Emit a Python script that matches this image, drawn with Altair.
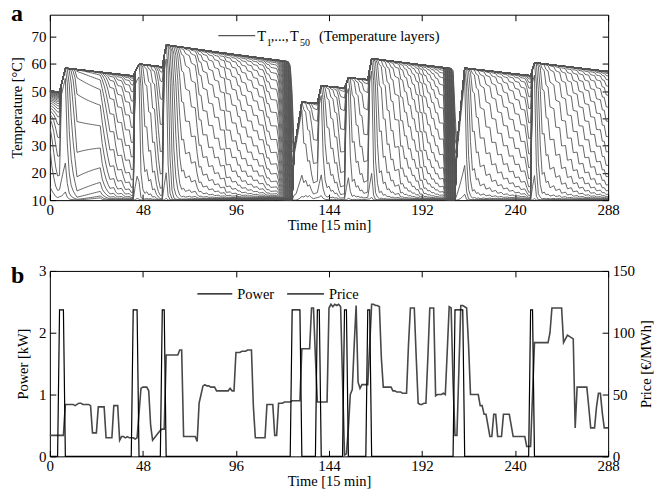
import altair as alt
import numpy as np
import pandas as pd

alt.data_transformers.disable_max_rows()

FONT = "Liberation Serif"
N_STEPS = 289          # 15-min steps, t = 0 ... 288
N_LAYERS = 50
T_COLD = 10.0          # mains water entering at the bottom, °C
T_ROOM = 20.0          # ambient temperature around the tank, °C
HEATER_LAYER = 2       # heater sits above the two bottom layers
LOSS = 0.0022          # standing loss per step
COND = 0.10            # conduction between neighbouring layers per step

# heater electrical power [kW] as (value, number of steps)
power_runs = [(0, 5), (2.37, 3), (0, 35), (2.37, 3), (0, 12), (2.37, 2), (0, 65),
              (2.37, 5), (0, 8), (2.37, 2), (0, 12), (2.37, 2), (0, 10), (2.37, 2),
              (0, 43), (2.37, 5), (0, 34), (2.37, 2), (0, 39)]

# electricity price [EUR/MWh] as (value, number of steps)
price_runs = [(17, 8), (42, 5), (41, 1), (42, 1), (43, 2), (42, 4), (41, 1), (19, 3),
              (40, 4), (15, 4), (41, 3), (13, 1), (16, 2), (15, 1), (16, 1), (15, 3),
              (14, 1), (15, 1), (35, 1), (55, 1), (56, 3), (53, 1), (25, 1), (13, 1),
              (15, 1), (17, 1), (19, 1), (21, 1), (22, 2), (82, 7), (86, 2), (16, 7),
              (12, 1), (43, 1), (50, 1), (57, 1), (58, 1), (57, 2), (56, 3), (53, 7),
              (55, 1), (53, 2), (84, 3), (85, 3), (86, 2), (86, 1), (40, 1), (15, 6),
              (42, 4), (17, 2), (43, 3), (44, 4), (45, 5), (87, 5), (120, 2), (80, 1),
              (44, 6), (120, 1), (123, 1), (121, 1), (123, 1), (122, 1), (123, 1),
              (121, 1), (60, 1), (1, 1), (2, 1), (23, 1), (50, 1), (54, 1), (90, 1),
              (122, 1), (60, 1), (55, 1), (58, 4), (90, 1), (123, 2), (122, 2), (121, 1),
              (80, 1), (56, 5), (53, 2), (52, 3), (51, 3), (90, 1), (120, 3), (80, 1),
              (43, 1), (42, 2), (43, 2), (80, 1), (120, 3), (49, 1), (50, 3), (51, 1),
              (50, 1), (85, 1), (121, 1), (120, 1), (60, 1), (17, 2), (70, 1), (122, 2),
              (121, 1), (120, 1), (90, 1), (50, 1), (50, 4), (41, 2), (34, 2), (25, 1),
              (16, 2), (34, 2), (16, 3), (34, 4), (25, 1), (16, 7), (8, 3), (50, 1),
              (92, 8), (100, 1), (120, 6), (92, 1), (95, 1), (98, 1), (97, 1), (96, 1),
              (95, 1), (23, 1), (56, 6), (40, 1), (23, 3), (40, 1), (51, 2), (35, 1),
              (23, 3)]

# top temperature reached at the end of each heating period [°C]
charge_peak = [58.5, 60.0, 67.0, 46.0, 52.0, 55.0, 62.0, 58.5, 60.5]

# hot-water draw-offs: step -> drawn volume in tank layers
draw_volume = {
    1: 0.5, 2: 0.5, 3: 0.6, 4: 0.5,
    9: 0.8, 10: 0.8, 11: 0.7, 12: 0.6, 13: 0.6, 14: 0.8,
    27: 0.8, 28: 0.6, 29: 0.6, 30: 0.6, 31: 0.6, 34: 0.8, 35: 0.6, 38: 0.7, 39: 0.7, 42: 0.8,
    46: 0.8, 47: 1.0, 48: 0.8, 49: 0.6, 51: 0.6, 53: 0.8, 55: 0.8, 56: 0.8, 57: 0.8,
    61: 1.0, 62: 1.0, 63: 1.0, 64: 1.0, 65: 0.8, 66: 0.8, 67: 0.8, 68: 0.6, 70: 0.5, 73: 0.5,
    76: 0.7, 77: 0.7, 79: 0.6, 82: 0.6, 85: 0.6, 88: 0.6, 91: 1.0, 94: 0.6, 97: 0.6, 99: 0.6,
    102: 0.6, 105: 0.6, 108: 0.6, 111: 0.7, 112: 0.7, 114: 0.6,
    118: 1.0, 119: 2.0, 120: 2.0, 121: 3.0, 122: 4.0, 123: 4.0, 124: 5.0, 125: 5.0,
    126: 6.0, 127: 6.0,
    131: 0.5, 133: 0.5, 135: 0.6, 136: 0.6,
    141: 0.8, 142: 0.8, 143: 0.6, 145: 0.6, 147: 0.6, 149: 0.8, 150: 0.8,
    155: 0.8, 156: 0.8, 158: 0.6, 160: 0.6, 162: 0.6,
    167: 1.0, 168: 1.0, 169: 0.8, 170: 0.8, 172: 0.7, 174: 0.7, 176: 0.6, 178: 0.6, 181: 1.0,
    183: 0.6, 185: 0.6, 187: 0.6, 189: 0.6, 191: 1.0, 193: 1.0, 195: 0.6, 197: 0.6, 199: 0.6,
    201: 0.6, 204: 3.0, 205: 5.0, 206: 6.0, 207: 6.0, 208: 6.0, 209: 6.0, 210: 4.0,
    215: 1.0, 216: 1.0, 217: 0.8, 218: 0.8, 220: 0.6, 222: 0.6, 225: 0.6, 228: 0.6, 231: 0.6,
    234: 0.6, 237: 0.6, 240: 0.6, 243: 0.6, 246: 0.8, 247: 1.0,
    251: 1.0, 252: 1.0, 253: 0.8, 254: 0.8, 256: 0.6, 258: 0.6, 261: 0.6, 264: 0.7, 267: 0.7,
    270: 0.7, 273: 0.7, 276: 0.7, 279: 0.7, 282: 0.7, 285: 0.7, 287: 0.7,
}

# layer temperatures at t = 0, bottom (T1) to top (T50) [°C]
layer_start = [15.0, 30.0, 37.0, 40.0, 41.5, 43.0, 44.0, 45.0, 46.0, 46.5,
               47.0, 47.5, 48.0, 48.3, 48.6, 48.9, 49.2, 49.4, 49.6, 49.8] + [50.0] * 30


def expand(runs):
    out = []
    for value, count in runs:
        out.extend([value] * count)
    assert len(out) == N_STEPS, len(out)
    return np.array(out, dtype=float)


power = expand(power_runs)
price = expand(price_runs)

# heating periods (first and last step with the heater on)
periods = []
i = 0
while i < N_STEPS:
    if power[i] > 0:
        j = i
        while j + 1 < N_STEPS and power[j + 1] > 0:
            j += 1
        periods.append((i, j))
        i = j + 1
    else:
        i += 1


def simulate():
    temp = np.array(layer_start, dtype=float)
    states = [temp.copy()]
    base = {}
    for t in range(1, N_STEPS):
        # plug flow upwards: cold water replaces what is drawn at the top
        vol = draw_volume.get(t, 0.0)
        while vol > 1e-9:
            f = min(vol, 1.0)
            vol -= f
            below = np.concatenate(([T_COLD], temp[:-1]))
            temp = temp + f * (below - temp)
        # heater: layers above it are mixed up towards the charge target
        k = t - 1
        for p, (s, e) in enumerate(periods):
            if s <= k <= e:
                if p not in base:
                    top = temp[HEATER_LAYER:].max()
                    base[p] = top if top < charge_peak[p] else temp[HEATER_LAYER]
                frac = (k - s + 1) / (e - s + 1)
                target = base[p] + (charge_peak[p] - base[p]) * frac
                temp[HEATER_LAYER:] = np.maximum(temp[HEATER_LAYER:], target)
        # conduction and standing losses
        lap = np.zeros_like(temp)
        lap[1:-1] = temp[2:] - 2 * temp[1:-1] + temp[:-2]
        lap[0] = temp[1] - temp[0]
        lap[-1] = temp[-2] - temp[-1]
        temp = temp + COND * lap
        temp = temp + LOSS * (T_ROOM - temp)
        states.append(temp.copy())
    return np.array(states)


states = simulate()
steps = np.arange(N_STEPS)
temp_df = pd.DataFrame({
    "t": np.tile(steps, N_LAYERS),
    "layer": np.repeat(np.arange(1, N_LAYERS + 1), N_STEPS),
    "temp": states.T.reshape(-1),
})
pb_df = pd.DataFrame({"t": steps, "power": power, "price": price})

W, H = 560, 186
TICK = 6
LABEL_SIZE = 15
TITLE_SIZE = 14.5
x_ticks = list(range(0, 289, 48))
x_scale = alt.Scale(domain=[0, 288], nice=False, zero=False)
ya_scale = alt.Scale(domain=[10, 78], nice=False, zero=False)
one = pd.DataFrame({"k": [0]})

axis_style = dict(labelFont=FONT, titleFont=FONT, labelFontSize=LABEL_SIZE,
                  titleFontSize=TITLE_SIZE, titleFontWeight="normal", labelColor="black",
                  titleColor="black", tickColor="black", tickWidth=1, grid=False,
                  domain=False, labelFlush=False, labelOverlap=False, labelBound=False)


def x_axis_bottom():
    return alt.Axis(values=x_ticks, orient="bottom", offset=-TICK, tickSize=TICK,
                    labelPadding=2, title="Time [15 min]", titlePadding=1, **axis_style)


def x_axis_top():
    return alt.Axis(values=x_ticks, orient="top", offset=-TICK, tickSize=TICK,
                    labels=False, title=None, **axis_style)


def text(x, y, s, size=14.5, weight="normal", align="left"):
    return alt.Chart(one).mark_text(text=s, font=FONT, fontSize=size, fontWeight=weight,
                                    align=align, baseline="alphabetic", color="black").encode(
        x=alt.value(x), y=alt.value(y))


def swatch(x1, x2, y, color, width):
    return alt.Chart(one).mark_rule(color=color, strokeWidth=width).encode(
        x=alt.value(x1), x2=alt.value(x2), y=alt.value(y))


# panel a: temperature layers
LAYER_GREY = "#555555"
temp_lines = alt.Chart(temp_df).mark_line(color=LAYER_GREY, strokeWidth=0.9, clip=True).encode(
    x=alt.X("t:Q", scale=x_scale, axis=x_axis_bottom()),
    y=alt.Y("temp:Q", scale=ya_scale,
            axis=alt.Axis(values=list(range(10, 71, 10)), orient="left", offset=-TICK,
                          tickSize=TICK, labelPadding=4, title="Temperature [°C]",
                          titlePadding=6, **axis_style)),
    detail="layer:N",
)
mirror_a = alt.Chart(pd.DataFrame({"t": [0], "temp": [10]})).mark_point(opacity=0).encode(
    x=alt.X("t:Q", scale=x_scale, axis=x_axis_top()),
    y=alt.Y("temp:Q", scale=ya_scale,
            axis=alt.Axis(values=list(range(10, 71, 10)), orient="right", offset=-TICK,
                          tickSize=TICK, labels=False, title=None, **axis_style)),
)
panel_a = alt.layer(
    temp_lines, mirror_a,
    swatch(169, 206, 21, LAYER_GREY, 1.2),
    text(208, 26, "T"), text(217.5, 31, "1", size=10),
    text(221.5, 26, ",...,"), text(241, 26, "T"), text(251, 31, "50", size=10),
    text(270, 26, "(Temperature layers)"),
    text(-39, 6, "a", size=24, weight="bold"),
).resolve_axis(x="independent", y="independent").properties(width=W, height=H)

# panel b: heater power and electricity price
power_line = alt.Chart(pb_df).mark_line(color="black", strokeWidth=1.2).encode(
    x=alt.X("t:Q", scale=x_scale, axis=x_axis_bottom()),
    y=alt.Y("power:Q", scale=alt.Scale(domain=[0, 3], nice=False),
            axis=alt.Axis(values=[0, 1, 2, 3], orient="left", offset=-TICK, tickSize=TICK,
                          labelPadding=4, title="Power [kW]", titlePadding=8, **axis_style)),
)
price_line = alt.Chart(pb_df).mark_line(color="#484848", strokeWidth=1.6).encode(
    x=alt.X("t:Q", scale=x_scale, axis=None),
    y=alt.Y("price:Q", scale=alt.Scale(domain=[0, 150], nice=False),
            axis=alt.Axis(values=[0, 50, 100, 150], orient="right", offset=-TICK,
                          tickSize=TICK, labelPadding=4, title="Price [€/MWh]",
                          titleAngle=270, titleBaseline="top", titlePadding=5,
                          **axis_style)),
)
mirror_b = alt.Chart(pd.DataFrame({"t": [0]})).mark_point(opacity=0).encode(
    x=alt.X("t:Q", scale=x_scale, axis=x_axis_top()),
    y=alt.value(0),
)
panel_b = alt.layer(
    price_line, power_line, mirror_b,
    swatch(148, 183, 23, "black", 1.2), text(188, 28, "Power"),
    swatch(238, 275, 23, "#484848", 1.6), text(280, 28, "Price"),
    text(-39, 12, "b", size=24, weight="bold"),
).resolve_scale(y="independent").resolve_axis(x="independent", y="independent").properties(
    width=W, height=H)

chart = alt.vconcat(panel_a, panel_b, spacing=31).properties(
    padding={"left": 9, "top": 0, "right": 0, "bottom": 0}, background="white"
).configure_view(stroke="black", strokeWidth=1)

chart.save("out.html", embed_options={"renderer": "svg", "actions": False})
